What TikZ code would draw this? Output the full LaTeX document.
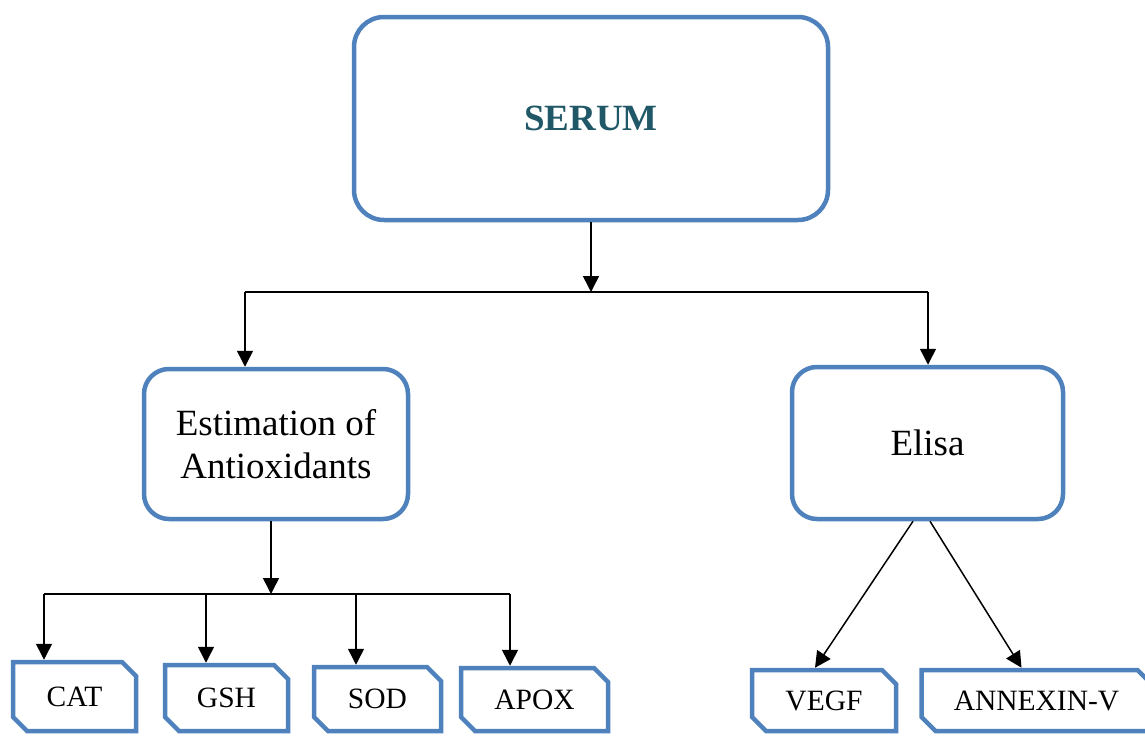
\documentclass[tikz,border=0pt]{standalone}
\usepackage{fontspec}
\setmainfont{Liberation Serif}
\usepackage{xcolor}
\usetikzlibrary{positioning,shapes.misc,arrows.meta}
\definecolor{boxblue}{RGB}{79,129,189}
\definecolor{serumtxt}{RGB}{33,88,104}
\tikzset{
 mainbox/.style={draw=boxblue, line width=4.5pt, rounded corners=25pt, align=center, inner sep=0pt,
   font=\fontsize{37}{43}\selectfont},
 leafbox/.style={draw=boxblue, line width=4.5pt, chamfered rectangle, chamfered rectangle corners={north east,south west},
   chamfered rectangle sep=7pt, inner sep=0pt, font=\fontsize{29.5}{32}\selectfont},
 bus/.style={line width=1.5pt},
 link/.style={line width=1.5pt, -{Triangle[width=16pt,length=16pt]}},
}

\begin{document}
\begin{tikzpicture}[x=1pt,y=-1pt]
\useasboundingbox (0,0) rectangle (1145,736);
% nodes
 \node[mainbox, rounded corners=30pt, minimum width=474pt, minimum height=203pt,
   font=\fontsize{37}{43}\selectfont\bfseries, text=serumtxt] (serum) at (591,118.5) {SERUM};
 \node[mainbox, minimum width=264pt, minimum height=150pt] (est) at (276,444) {Estimation of\\Antioxidants};
 \node[mainbox, minimum width=271pt, minimum height=152pt] (elisa) at (927.5,443) {Elisa};
% leaves
 \node[leafbox, minimum width=123pt, minimum height=69pt] (cat) at (74.5,696.5) {CAT};
 \node[leafbox, minimum width=123pt, minimum height=66pt] (gsh) at (226.5,698) {GSH};
 \node[leafbox, minimum width=127pt, minimum height=64pt] (sod) at (377.5,699) {SOD};
 \node[leafbox, minimum width=147pt, minimum height=63pt] (apox) at (534.5,699.5) {APOX};
 \node[leafbox, minimum width=144pt, minimum height=61pt] (vegf) at (824,700.5) {VEGF};
 \node[leafbox, minimum width=230pt, minimum height=61pt, right=21pt of vegf] (annexin) {ANNEXIN-V};
% edges
 \coordinate (busl) at (245,292);
 \coordinate (busr) at (928,292);
 \draw[bus] (busl) -- (busr);
 \draw[link] (serum.south) -- (serum.south |- busl);
 \draw[link] (busl) -- (busl |- est.north);
 \draw[link] (busr) -- (busr |- elisa.north);

 \coordinate (busa) at (44,594);
 \coordinate (busb) at (510,594);
 \draw[bus] (busa) -- (busb);
 \draw[link] ([xshift=-5pt]est.south) -- ([xshift=-5pt]est.south |- busa);
 \foreach \x/\leaf in {44/cat,206/gsh,356/sod,510/apox}{
   \coordinate (d\leaf) at (\x,594);
   \draw[link] (d\leaf) -- (d\leaf |- \leaf.north);
 }
 \draw[link] ([xshift=-14.5pt]elisa.south) -- ([xshift=-9pt]vegf.north);
 \draw[link] ([xshift=2.5pt]elisa.south) -- ([xshift=-15pt]annexin.north);
\end{tikzpicture}
\end{document}
